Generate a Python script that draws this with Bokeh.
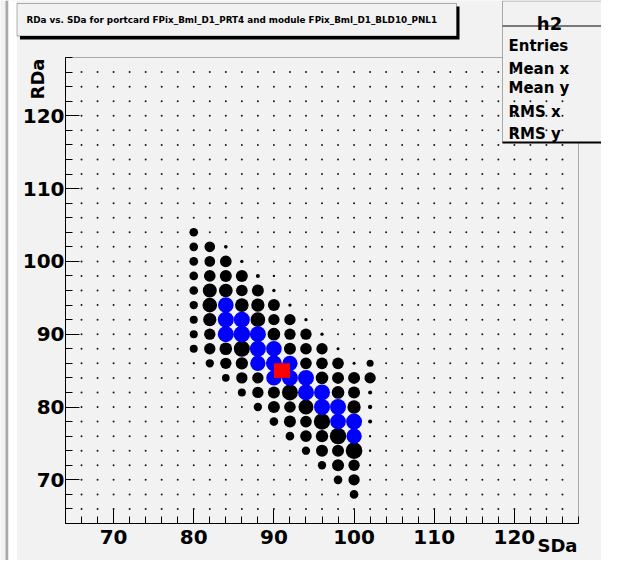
import math
from bokeh.plotting import figure
from bokeh.models import Range1d, SingleIntervalTicker, Label, BoxAnnotation, ColumnDataSource, LinearAxis
from bokeh.embed import file_html
from bokeh.resources import INLINE

# ---------------- data ----------------
title_text = "RDa vs. SDa for portcard FPix_Bml_D1_PRT4 and module FPix_Bml_D1_BLD10_PNL1"
x_title = "SDa"
y_title = "RDa"
hist_name = "h2"
stat_names = ["Entries", "Mean x", "Mean y", "RMS x", "RMS y"]

# scan grid (every tested SDa / RDa setting)
scan_sda = [66, 68, 70, 72, 74, 76, 78, 80, 82, 84, 86, 88, 90, 92, 94, 96,
            98, 100, 102, 104, 106, 108, 110, 112, 114, 116, 118, 120, 122, 124, 126]
scan_rda = [66, 68, 70, 72, 74, 76, 78, 80, 82, 84, 86, 88, 90, 92, 94, 96,
            98, 100, 102, 104, 106, 108, 110, 112, 114, 116, 118, 120, 122, 124, 126]

# measured points: SDa, RDa, hits (marker weight), good flag (blue)
pt_sda = [80,
          80, 82, 84,
          80, 82, 84, 86,
          80, 82, 84, 86, 88, 90,
          80, 82, 84, 86, 88, 90,
          80, 82, 84, 86, 88, 90, 92,
          80, 82, 84, 86, 88, 90, 92, 94,
          80, 82, 84, 86, 88, 90, 92, 94, 96,
          80, 82, 84, 86, 88, 90, 92, 94, 96, 98,
          80, 82, 84, 86, 88, 90, 92, 94, 96, 98, 100, 102,
          84, 86, 88, 90, 92, 94, 96, 98, 100, 102,
          86, 88, 90, 92, 94, 96, 98, 100, 102,
          88, 90, 92, 94, 96, 98, 100, 102,
          90, 92, 94, 96, 98, 100, 102,
          92, 94, 96, 98, 100, 102,
          94, 96, 98, 100, 102,
          96, 98, 100, 102,
          98, 100,
          100]
pt_rda = [104,
          102, 102, 102,
          100, 100, 100, 100,
          98, 98, 98, 98, 98, 98,
          96, 96, 96, 96, 96, 96,
          94, 94, 94, 94, 94, 94, 94,
          92, 92, 92, 92, 92, 92, 92, 92,
          90, 90, 90, 90, 90, 90, 90, 90, 90,
          88, 88, 88, 88, 88, 88, 88, 88, 88, 88,
          86, 86, 86, 86, 86, 86, 86, 86, 86, 86, 86, 86,
          84, 84, 84, 84, 84, 84, 84, 84, 84, 84,
          82, 82, 82, 82, 82, 82, 82, 82, 82,
          80, 80, 80, 80, 80, 80, 80, 80,
          78, 78, 78, 78, 78, 78, 78,
          76, 76, 76, 76, 76, 76,
          74, 74, 74, 74, 74,
          72, 72, 72, 72,
          70, 70,
          68]
pt_hits = [26,
           26, 32, 11,
           26, 32, 35, 10,
           26, 35, 36, 36, 12, 7,
           26, 42, 41, 35, 36, 10,
           25, 44, 47, 41, 40, 36, 10,
           24, 40, 48, 48, 44, 34, 34, 10,
           24, 34, 48, 50, 48, 38, 34, 34, 10,
           24, 34, 38, 48, 48, 47, 36, 35, 34, 9,
           6, 25, 34, 37, 46, 48, 46, 35, 35, 35, 9, 21,
           23, 34, 34, 46, 48, 48, 38, 36, 36, 34,
           24, 34, 36, 48, 48, 48, 38, 36, 12,
           25, 36, 35, 45, 48, 48, 40, 13,
           26, 36, 35, 49, 47, 48, 12,
           26, 35, 37, 49, 46, 6,
           25, 36, 36, 50, 7,
           25, 36, 34, 6,
           26, 34,
           26]
pt_good = [0,
           0, 0, 0,
           0, 0, 0, 0,
           0, 0, 0, 0, 0, 0,
           0, 0, 0, 0, 0, 0,
           0, 0, 1, 0, 0, 0, 0,
           0, 0, 1, 1, 0, 0, 0, 0,
           0, 0, 1, 1, 1, 0, 0, 0, 0,
           0, 0, 0, 0, 1, 1, 0, 0, 0, 0,
           0, 0, 0, 0, 1, 1, 1, 0, 0, 0, 0, 0,
           0, 0, 0, 1, 1, 1, 0, 0, 0, 0,
           0, 0, 0, 0, 1, 1, 0, 0, 0,
           0, 0, 0, 0, 1, 1, 0, 0,
           0, 0, 0, 0, 1, 1, 0,
           0, 0, 0, 0, 1, 0,
           0, 0, 0, 0, 0,
           0, 0, 0, 0,
           0, 0,
           0]
best_sda = [91]
best_rda = [85]

x_min, x_max = 64, 128
y_min, y_max = 64, 128

# ---------------- layout ----------------
W, H = 601, 560
BG = "#f2f2f2"
FONT = "DejaVu Sans"
CANVAS = dict(left_units="canvas", right_units="canvas", top_units="canvas", bottom_units="canvas")

# pixel box of the histogram frame on the canvas
FR_L, FR_R, FR_T, FR_B = 65, 578, 57, 523

# the plotting frame spans the whole canvas; the ranges are widened so that the
# histogram area [x_min, x_max] x [y_min, y_max] lands on the frame box above
sx = (FR_R - FR_L) / (x_max - x_min)
sy = (FR_B - FR_T) / (y_max - y_min)
xr = Range1d(x_min - FR_L / sx, x_max + (W - FR_R) / sx)
yr = Range1d(y_min - (H - FR_B) / sy, y_max + FR_T / sy)

p = figure(width=W, height=H, output_backend="svg", toolbar_location=None,
           title=None, x_range=xr, y_range=yr, x_axis_type=None, y_axis_type=None,
           min_border=0, min_border_left=0, min_border_right=0, min_border_top=0, min_border_bottom=0)
p.background_fill_color = BG
p.border_fill_color = BG
p.outline_line_color = None
p.xgrid.visible = False
p.ygrid.visible = False

xaxis = LinearAxis(fixed_location=y_min, bounds=(x_min, x_max))
yaxis = LinearAxis(fixed_location=x_min, bounds=(y_min, y_max))
p.add_layout(xaxis, "below")
p.add_layout(yaxis, "left")
for ax in (xaxis, yaxis):
    ax.ticker = SingleIntervalTicker(interval=10, num_minor_ticks=5)
    ax.major_tick_in = 14
    ax.major_tick_out = 0
    ax.minor_tick_in = 7
    ax.minor_tick_out = 0
    ax.axis_line_color = "black"
    ax.major_tick_line_color = "black"
    ax.minor_tick_line_color = "black"
    ax.major_label_text_font = FONT
    ax.major_label_text_font_style = "bold"
    ax.major_label_text_font_size = "20px"
    ax.major_label_text_color = "black"
xaxis.major_label_standoff = 6
yaxis.major_label_standoff = 1

# window edge decoration at the left of the canvas
p.add_layout(BoxAnnotation(left=5, right=8, top=0, bottom=H, fill_color="#a9a9a9",
                           fill_alpha=1, line_color=None, level="underlay", **CANVAS))
p.add_layout(BoxAnnotation(left=8, right=16.5, top=0, bottom=H, fill_color="white",
                           fill_alpha=1, line_color=None, level="underlay", **CANVAS))

# histogram frame
p.add_layout(BoxAnnotation(left=x_min, right=x_max, bottom=y_min, top=y_max, fill_alpha=0,
                           line_color="black", line_width=1, level="underlay"))

# ---------------- stats pave (below the markers) ----------------
p.add_layout(BoxAnnotation(left=502, right=640, top=0.5, bottom=142,
                           fill_color=BG, fill_alpha=1, line_color="black", line_width=1,
                           level="underlay", **CANVAS))
p.add_layout(BoxAnnotation(left=502, right=640, top=141, bottom=143,
                           fill_color="black", fill_alpha=1, line_color=None, level="underlay", **CANVAS))
p.add_layout(BoxAnnotation(left=502, right=640, top=25, bottom=26,
                           fill_color="black", fill_alpha=1, line_color=None, level="underlay", **CANVAS))

# background scan grid dots
gx = [a for b in scan_rda for a in scan_sda]
gy = [b for b in scan_rda for a in scan_sda]
p.scatter(gx, gy, size=2.0, marker="circle", color="#1a1a1a", line_color=None)

# measured markers
sizes = [h / 3.0 for h in pt_hits]
colors = ["#0000ff" if g else "#000000" for g in pt_good]
order = sorted(range(len(pt_sda)), key=lambda i: pt_good[i])
src = ColumnDataSource(dict(x=[pt_sda[i] for i in order], y=[pt_rda[i] for i in order],
                            s=[sizes[i] for i in order], c=[colors[i] for i in order]))
p.scatter("x", "y", size="s", color="c", line_color=None, marker="circle", source=src)

# best point
p.rect(best_sda, best_rda, width=2, height=2, color="#ff0000", line_color=None)

# stats texts
p.add_layout(Label(x=549, y=23, x_units="canvas", y_units="canvas", text=hist_name,
                   text_font=FONT, text_font_style="bold", text_font_size="18px",
                   text_baseline="alphabetic", text_align="center", text_color="black"))
stat_baselines = [45, 68.3, 87, 111.7, 133.3]
for name, b in zip(stat_names, stat_baselines):
    p.add_layout(Label(x=508, y=b, x_units="canvas", y_units="canvas", text=name,
                       text_font=FONT, text_font_style="bold", text_font_size="15px",
                       text_baseline="alphabetic", text_align="left", text_color="black"))

# ---------------- title pave ----------------
p.add_layout(BoxAnnotation(left=19.5, right=459, top=6, bottom=39,
                           fill_color="black", fill_alpha=1, line_color=None, **CANVAS))
p.add_layout(BoxAnnotation(left=16.5, right=456, top=3, bottom=35.5,
                           fill_color=BG, fill_alpha=1, line_color="black", line_width=1, **CANVAS))
p.add_layout(Label(x=26, y=19.5, x_units="canvas", y_units="canvas", text=title_text,
                   text_font=FONT, text_font_style="bold", text_font_size="8.8px",
                   text_baseline="middle", text_align="left", text_color="black"))

# ---------------- axis titles ----------------
p.add_layout(Label(x=36.5, y=58, x_units="canvas", y_units="canvas", text=y_title,
                   angle=math.pi / 2, text_font=FONT, text_font_style="bold", text_font_size="18px",
                   text_baseline="alphabetic", text_align="right", text_color="black"))
p.add_layout(Label(x=577, y=555, x_units="canvas", y_units="canvas", text=x_title,
                   text_font=FONT, text_font_style="bold", text_font_size="18px",
                   text_baseline="bottom", text_align="right", text_color="black"))

open("out.html", "w").write(file_html(p, INLINE))
